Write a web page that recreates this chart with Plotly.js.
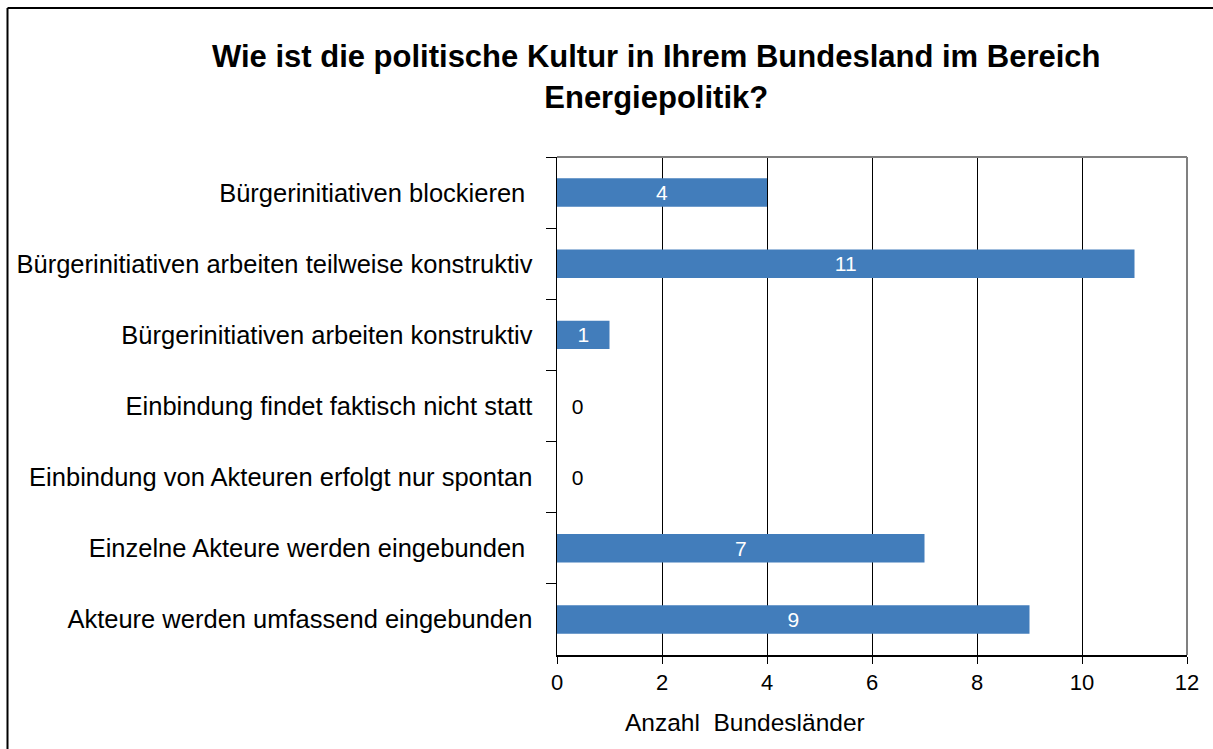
<!DOCTYPE html>
<html>
<head>
<meta charset="utf-8">
<script src="https://cdn.plot.ly/plotly-3.0.1.min.js"></script>
<style>html,body{margin:0;padding:0;background:#fff;}#chart{width:1213px;height:749px;}</style>
</head>
<body>
<div id="chart"></div>
<script>
const categories = [
  "Bürgerinitiativen blockieren ",
  "Bürgerinitiativen arbeiten teilweise konstruktiv",
  "Bürgerinitiativen arbeiten konstruktiv",
  "Einbindung findet faktisch nicht statt",
  "Einbindung von Akteuren erfolgt nur spontan",
  "Einzelne Akteure werden eingebunden ",
  "Akteure werden umfassend eingebunden"
];
const values = [4, 11, 1, 0, 0, 7, 9];
const xTicks = [0, 2, 4, 6, 8, 10, 12];
const chartTitle = "Wie ist die politische Kultur in Ihrem Bundesland im Bereich<br>Energiepolitik?";
const xTitle = "Anzahl  Bundesländer";

const font = "Liberation Sans, Arial, sans-serif";
const textPos = values.map(v => v > 0 ? "inside" : "outside");
const textCol = values.map(v => v > 0 ? "#ffffff" : "#000000");
const textStr = values.map(v => v > 0 ? String(v) : "\u00a0\u00a0" + String(v));

const trace = {
  type: "bar",
  orientation: "h",
  x: values,
  y: categories,
  width: 0.4,
  marker: {color: "#427DBB", line: {width: 0}},
  text: textStr,
  textposition: textPos,
  insidetextanchor: "middle",
  textangle: 0,
  constraintext: "none",
  cliponaxis: false,
  textfont: {family: font, size: 21, color: textCol},
  hoverinfo: "skip"
};

const layout = {
  width: 1213,
  height: 749,
  margin: {l: 557, r: 26, t: 157, b: 94},
  paper_bgcolor: "#ffffff",
  plot_bgcolor: "#ffffff",
  showlegend: false,
  font: {family: font, color: "#000"},
  title: {
    text: chartTitle,
    font: {family: font, size: 31, color: "#000", weight: "bold"},
    xref: "container", x: 0.541, xanchor: "center",
    yref: "container", y: 0.91, yanchor: "top"
  },
  xaxis: {
    range: [0, 12],
    tickvals: xTicks,
    ticktext: xTicks.map(String),
    showgrid: true,
    gridcolor: "#000",
    gridwidth: 1,
    zeroline: false,
    showline: true,
    linecolor: "#000",
    linewidth: 1.5,
    ticks: "outside",
    ticklen: 7,
    tickcolor: "#000",
    tickfont: {family: font, size: 22, color: "#000"},
    fixedrange: true
  },
  yaxis: {
    type: "category",
    categoryorder: "array",
    categoryarray: categories,
    autorange: "reversed",
    tickson: "boundaries",
    ticks: "outside",
    ticklen: 10,
    tickcolor: "#000",
    showgrid: false,
    zeroline: false,
    showline: true,
    linecolor: "#000",
    linewidth: 1.5,
    tickfont: {family: font, size: 25.5, color: "#000"},
    ticklabelstandoff: 18,
    fixedrange: true
  },
  annotations: [{
    text: xTitle,
    xref: "paper", yref: "paper",
    x: (745 - 557) / 630, y: -0.135,
    xanchor: "center", yanchor: "middle",
    showarrow: false,
    font: {family: font, size: 24.5, color: "#000"}
  }],
  shapes: [
    {type: "line", xref: "paper", yref: "paper", x0: 0, x1: 1, y0: 1, y1: 1, line: {color: "#808080", width: 2}},
    {type: "line", xref: "paper", yref: "paper", x0: 1, x1: 1, y0: 0, y1: 1, line: {color: "#808080", width: 2}},
    {type: "line", xref: "paper", yref: "paper", x0: (7.5 - 557) / 630, x1: (1220 - 557) / 630, y0: 1 + (157 - 8) / 498, y1: 1 + (157 - 8) / 498, line: {color: "#000", width: 2}},
    {type: "line", xref: "paper", yref: "paper", x0: (7.5 - 557) / 630, x1: (7.5 - 557) / 630, y0: 1 + (157 - 8) / 498, y1: -0.3, line: {color: "#000", width: 2}}
  ]
};

Plotly.newPlot("chart", [trace], layout, {displayModeBar: false, staticPlot: true});
</script>
</body>
</html>
